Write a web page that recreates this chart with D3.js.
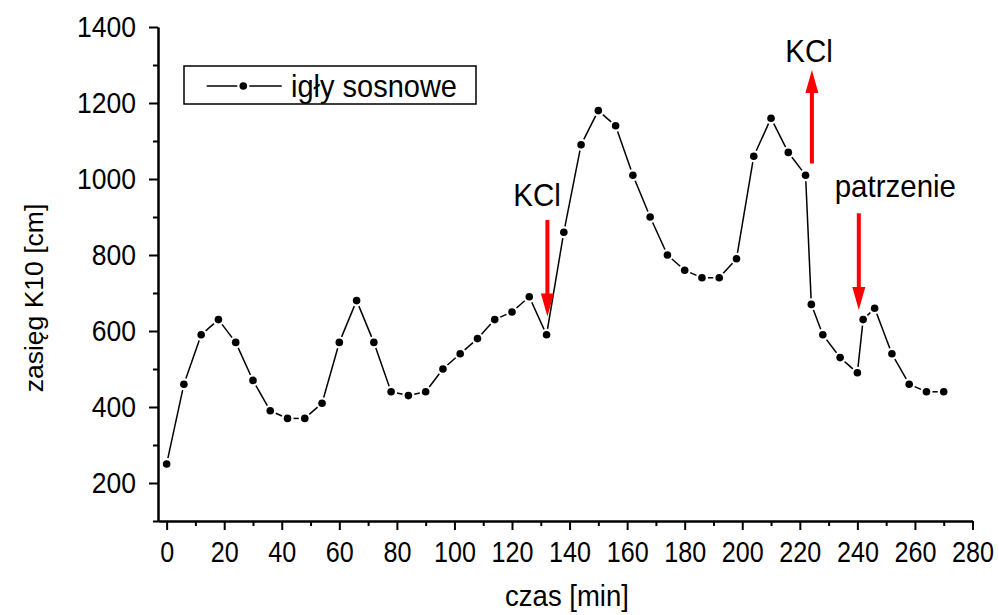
<!DOCTYPE html>
<html>
<head>
<meta charset="utf-8">
<script src="https://cdn.jsdelivr.net/npm/d3@7"></script>
<style>
  body { margin: 0; background: #fff; }
  svg { display: block; font-family: Arial, "Liberation Sans", sans-serif; }
  svg text { transform-box: fill-box; transform-origin: center; }
  .axis path, .axis line { stroke: #000; stroke-width: 2; }
  .axis text { fill: #000; font-size: 26.5px; font-family: Arial, "Liberation Sans", sans-serif; transform: scaleY(1.08); }
  .xaxis text { transform: scale(0.95, 1.08); }
  .stretch { transform: scaleY(1.06); }
</style>
</head>
<body>
<svg id="chart" width="999" height="615"></svg>
<script>
// czas [min]
const times = [0, 6, 12, 18, 24, 30, 36, 42, 48, 54, 60, 66, 72, 78, 84, 90, 96, 102, 108, 114,
  120, 126, 132, 138, 144, 150, 156, 162, 168, 174, 180, 186, 192, 198, 204, 210, 216, 222,
  224, 228, 234, 240, 242, 246, 252, 258, 264, 270];

// zasięg K10 [cm]
const ranges = [250, 460, 590, 630, 570, 470, 390, 370, 370, 410, 570, 680, 570, 440, 430, 440,
  500, 540, 580, 630, 650, 690, 590, 860, 1090, 1180, 1140, 1010, 900, 800, 760, 740, 740, 790,
  1060, 1160, 1070, 1010, 670, 590, 530, 490, 630, 660, 540, 460, 440, 440];

const seriesName = 'igły sosnowe';

const xMajorTicks = d3.range(0, 281, 20);
const xMinorTicks = d3.range(10, 280, 20);
const yMajorTicks = d3.range(200, 1401, 200);
const yMinorTicks = d3.range(100, 1400, 200);

// annotation arrows: t, start value, tip value
const arrows = [
  {t: 132.3, from: 892, to: 638},
  {t: 224.2, from: 1041, to: 1287},
  {t: 240.5, from: 910, to: 655}
];
const notes = [
  {t: 128.7, v: 930, text: 'KCl'},
  {t: 223.2, v: 1309, text: 'KCl'},
  {t: 253.2, v: 953, text: 'patrzenie'}
];

const data = times.map((t, i) => ({t, v: ranges[i]}));

const svg = d3.select('#chart');

const x = d3.scaleLinear().domain([-3, 280]).range([158, 972.5]);
const y = d3.scaleLinear().domain([100, 1400]).range([521, 27]);

// axes
svg.append('g')
  .attr('class', 'axis')
  .attr('transform', 'translate(0,521)')
  .call(d3.axisBottom(x).tickValues(xMinorTicks).tickSize(5).tickSizeOuter(0).tickFormat(''));

svg.append('g')
  .attr('class', 'axis xaxis')
  .attr('transform', 'translate(0,521)')
  .call(d3.axisBottom(x).tickValues(xMajorTicks).tickSize(9).tickSizeOuter(0)
    .tickPadding(12).tickFormat(d3.format('d')));

svg.append('g')
  .attr('class', 'axis')
  .attr('transform', 'translate(158,0)')
  .call(d3.axisLeft(y).tickValues(yMinorTicks).tickSize(5).tickSizeOuter(0).tickFormat(''));

svg.append('g')
  .attr('class', 'axis')
  .attr('transform', 'translate(158,0)')
  .call(d3.axisLeft(y).tickValues(yMajorTicks).tickSize(9).tickSizeOuter(0)
    .tickPadding(13).tickFormat(d3.format('d')));

svg.append('text')
  .attr('class', 'stretch')
  .attr('x', 567)
  .attr('y', 605)
  .attr('text-anchor', 'middle')
  .style('font-size', '27.5px')
  .text('czas [min]');

svg.append('text')
  .attr('transform', 'translate(34,307) rotate(-90)')
  .attr('text-anchor', 'middle')
  .style('font-size', '26.5px')
  .text('zasięg K10 [cm]');

// line with gaps around the markers
const gap = 6;
const segs = d3.pairs(data).map(([a, b]) => {
  const x1 = x(a.t), y1 = y(a.v), x2 = x(b.t), y2 = y(b.v);
  const len = Math.hypot(x2 - x1, y2 - y1);
  const ux = (x2 - x1) / len, uy = (y2 - y1) / len;
  return {x1: x1 + ux * gap, y1: y1 + uy * gap, x2: x2 - ux * gap, y2: y2 - uy * gap, len};
}).filter(s => s.len > 2 * gap);

svg.append('g')
  .selectAll('line')
  .data(segs)
  .join('line')
    .attr('x1', d => d.x1)
    .attr('y1', d => d.y1)
    .attr('x2', d => d.x2)
    .attr('y2', d => d.y2)
    .attr('stroke', '#000')
    .attr('stroke-width', 1.5);

svg.append('g')
  .selectAll('circle')
  .data(data)
  .join('circle')
    .attr('cx', d => x(d.t))
    .attr('cy', d => y(d.v))
    .attr('r', 3.8)
    .attr('fill', '#000');

// red arrows
function arrowPath(x0, yFrom, yTo) {
  const dir = yTo > yFrom ? 1 : -1;
  const hw = 6.5, sw = 2, hl = 23;
  const yb = yTo - dir * hl;
  return `M${x0 - sw},${yFrom}L${x0 + sw},${yFrom}L${x0 + sw},${yb}L${x0 + hw},${yb}` +
    `L${x0},${yTo}L${x0 - hw},${yb}L${x0 - sw},${yb}Z`;
}

svg.append('g')
  .selectAll('path')
  .data(arrows)
  .join('path')
    .attr('d', d => arrowPath(x(d.t), y(d.from), y(d.to)))
    .attr('fill', '#ff0000');

svg.append('g')
  .selectAll('text')
  .data(notes)
  .join('text')
    .attr('class', 'stretch')
    .attr('x', d => x(d.t))
    .attr('y', d => y(d.v))
    .attr('text-anchor', 'middle')
    .style('font-size', '29.5px')
    .text(d => d.text);

// legend
const legend = svg.append('g');
legend.append('rect')
  .attr('x', 184).attr('y', 66)
  .attr('width', 292).attr('height', 38)
  .attr('fill', 'none')
  .attr('stroke', '#000')
  .attr('stroke-width', 1.5);
legend.append('line')
  .attr('x1', 206.7).attr('x2', 237.3).attr('y1', 86).attr('y2', 86)
  .attr('stroke', '#000').attr('stroke-width', 1.5);
legend.append('line')
  .attr('x1', 249.3).attr('x2', 281.7).attr('y1', 86).attr('y2', 86)
  .attr('stroke', '#000').attr('stroke-width', 1.5);
legend.append('circle')
  .attr('cx', 243.3).attr('cy', 86).attr('r', 3.8).attr('fill', '#000');
legend.append('text')
  .attr('class', 'stretch')
  .attr('x', 291).attr('y', 96)
  .style('font-size', '29px')
  .text(seriesName);
</script>
</body>
</html>
